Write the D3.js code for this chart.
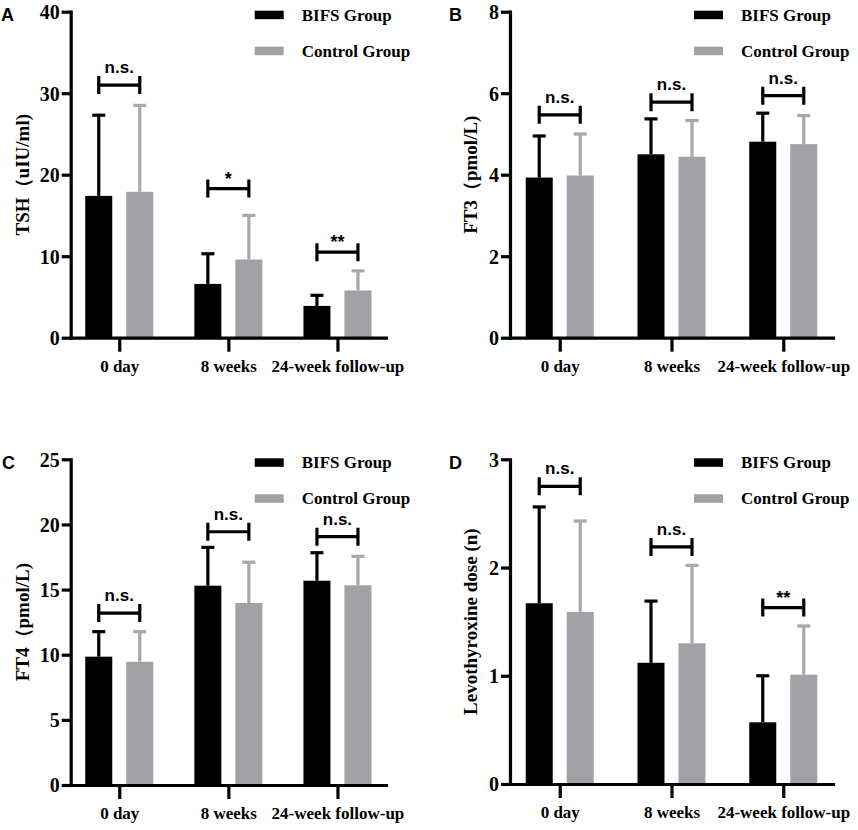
<!DOCTYPE html>
<html>
<head>
<meta charset="utf-8">
<script src="https://cdn.jsdelivr.net/npm/d3@7"></script>
<style>
  body { margin: 0; background: #fff; }
  svg { display: block; }
</style>
</head>
<body>
<div class="chart"></div>
<script>
// time points and groups
const timepoints = ['0 day', '8 weeks', '24-week follow-up'];
const groups = ['BIFS Group', 'Control Group'];

// A: TSH
const tshBifs = [17.4, 6.6, 3.9];
const tshBifsSd = [9.9, 3.7, 1.3];
const tshCtrl = [17.9, 9.6, 5.8];
const tshCtrlSd = [10.6, 5.4, 2.4];
const tshSig = ['n.s.', '*', '**'];
const tshSigAt = [31.0, 18.3, 10.5];
const tshTicks = [0, 10, 20, 30, 40];

// B: FT3
const ft3Bifs = [3.93, 4.50, 4.81];
const ft3BifsSd = [1.02, 0.87, 0.70];
const ft3Ctrl = [3.98, 4.44, 4.75];
const ft3CtrlSd = [1.02, 0.89, 0.70];
const ft3Sig = ['n.s.', 'n.s.', 'n.s.'];
const ft3SigAt = [5.47, 5.78, 5.94];
const ft3Ticks = [0, 2, 4, 6, 8];

// C: FT4
const ft4Bifs = [9.85, 15.3, 15.68];
const ft4BifsSd = [1.92, 2.94, 2.15];
const ft4Ctrl = [9.46, 13.97, 15.33];
const ft4CtrlSd = [2.31, 3.13, 2.22];
const ft4Sig = ['n.s.', 'n.s.', 'n.s.'];
const ft4SigAt = [13.2, 19.44, 19.06];
const ft4Ticks = [0, 5, 10, 15, 20, 25];

// D: Levothyroxine dose
const levoBifs = [1.67, 1.12, 0.57];
const levoBifsSd = [0.89, 0.57, 0.43];
const levoCtrl = [1.59, 1.30, 1.01];
const levoCtrlSd = [0.84, 0.72, 0.45];
const levoSig = ['n.s.', 'n.s.', '**'];
const levoSigAt = [2.75, 2.19, 1.63];
const levoTicks = [0, 1, 2, 3];

const colors = ['#000000', '#a2a1a6'];
const errColors = ['#000000', '#a8a8aa'];
const serif = '"Liberation Serif", "Times New Roman", serif';
const sans = '"Liberation Sans", Arial, sans-serif';
const lw = 3.2;

const svg = d3.select('.chart')
    .append('svg')
    .attr('width', 858)
    .attr('height', 830);

function drawPanel(p) {
    const g = svg.append('g');

    const x = d3.scalePoint()
        .domain(timepoints)
        .range([p.left, p.right])
        .padding(0.445);
    const y = d3.scaleLinear()
        .domain([0, d3.max(p.ticks)])
        .range([p.bottom, p.top]);

    const off = 20.5, bw = 27, cap = 13;
    const rows = timepoints.map((t, i) => ({
        t: t,
        vals: [p.bifs[i], p.ctrl[i]],
        sds: [p.bifsSd[i], p.ctrlSd[i]],
        sig: p.sig[i],
        sigAt: p.sigAt[i]
    }));

    // bars
    rows.forEach(r => {
        r.vals.forEach((v, k) => {
            const cx = x(r.t) + (k === 0 ? -off : off);
            g.append('rect')
                .attr('x', cx - bw / 2)
                .attr('y', y(v))
                .attr('width', bw)
                .attr('height', y(0) - y(v))
                .attr('fill', colors[k]);
            const top = y(v + r.sds[k]);
            g.append('line')
                .attr('x1', cx).attr('x2', cx)
                .attr('y1', y(v)).attr('y2', top)
                .attr('stroke', errColors[k])
                .attr('stroke-width', lw);
            g.append('line')
                .attr('x1', cx - cap / 2).attr('x2', cx + cap / 2)
                .attr('y1', top).attr('y2', top)
                .attr('stroke', errColors[k])
                .attr('stroke-width', lw);
        });

        // significance bracket
        const x1 = x(r.t) - off, x2 = x(r.t) + off, by = y(r.sigAt);
        g.append('path')
            .attr('d', `M${x1},${by - 9}V${by + 9}M${x1},${by}H${x2}M${x2},${by - 9}V${by + 9}`)
            .attr('fill', 'none')
            .attr('stroke', '#000')
            .attr('stroke-width', lw);
        const star = r.sig !== 'n.s.';
        g.append('text')
            .attr('x', x(r.t))
            .attr('y', star ? by - 4 : by - 12)
            .attr('text-anchor', 'middle')
            .attr('font-family', sans)
            .attr('font-weight', 'bold')
            .attr('font-size', star ? 18 : 17)
            .text(r.sig);
    });

    // axes
    const yAxis = d3.axisLeft(y)
        .tickValues(p.ticks)
        .tickFormat(d3.format('d'))
        .tickSize(9)
        .tickSizeOuter(0)
        .tickPadding(2);
    const ya = g.append('g')
        .attr('transform', `translate(${p.left},0)`)
        .call(yAxis);

    const xAxis = d3.axisBottom(x)
        .tickSize(14)
        .tickSizeOuter(0)
        .tickPadding(8);
    const xa = g.append('g')
        .attr('transform', `translate(0,${p.bottom})`)
        .call(xAxis);

    [ya, xa].forEach(a => {
        a.select('.domain').attr('stroke', '#000').attr('stroke-width', lw).attr('stroke-linecap', 'square');
        a.selectAll('.tick line').attr('stroke', '#000').attr('stroke-width', lw);
        a.selectAll('.tick text')
            .attr('fill', '#000')
            .attr('font-family', serif)
            .attr('font-weight', 'bold')
            .attr('font-size', 17);
    });
    ya.selectAll('.tick text').attr('dy', '0.34em').attr('font-size', 20);

    // y title
    g.append('text')
        .attr('transform', `translate(${p.titleX},${(p.top + p.bottom) / 2}) rotate(-90)`)
        .attr('text-anchor', 'middle')
        .attr('dominant-baseline', 'central')
        .attr('font-family', serif)
        .attr('font-weight', 'bold')
        .attr('font-size', 19)
        .text(p.title);

    // panel letter
    g.append('text')
        .attr('x', p.letterX)
        .attr('y', p.top + 9.5)
        .attr('font-family', sans)
        .attr('font-weight', 'bold')
        .attr('font-size', 18)
        .text(p.letter);

    // legend
    const legend = g.append('g')
        .attr('transform', `translate(${p.left + 184},${p.top})`);
    legend.selectAll('rect')
        .data(groups)
        .enter()
        .append('rect')
        .attr('x', 0)
        .attr('y', (d, i) => -1 + i * 36)
        .attr('width', 29)
        .attr('height', 8.5)
        .attr('fill', (d, i) => colors[i]);
    legend.selectAll('text')
        .data(groups)
        .enter()
        .append('text')
        .attr('x', 47)
        .attr('y', (d, i) => 9 + i * 36)
        .attr('font-family', serif)
        .attr('font-weight', 'bold')
        .attr('font-size', 17)
        .text(d => d);
}

drawPanel({ letter: 'A', letterX: 1, title: 'TSH（uIU/ml)', titleX: 22,
    left: 70.7, right: 386, top: 11.7, bottom: 337.7, ticks: tshTicks,
    bifs: tshBifs, bifsSd: tshBifsSd, ctrl: tshCtrl, ctrlSd: tshCtrlSd, sig: tshSig, sigAt: tshSigAt });
drawPanel({ letter: 'B', letterX: 449, title: 'FT3（pmol/L)', titleX: 470.5,
    left: 510, right: 833, top: 11.7, bottom: 337.7, ticks: ft3Ticks,
    bifs: ft3Bifs, bifsSd: ft3BifsSd, ctrl: ft3Ctrl, ctrlSd: ft3CtrlSd, sig: ft3Sig, sigAt: ft3SigAt });
drawPanel({ letter: 'C', letterX: 2, title: 'FT4（pmol/L)', titleX: 22,
    left: 70.7, right: 386, top: 459.3, bottom: 785, ticks: ft4Ticks,
    bifs: ft4Bifs, bifsSd: ft4BifsSd, ctrl: ft4Ctrl, ctrlSd: ft4CtrlSd, sig: ft4Sig, sigAt: ft4SigAt });
drawPanel({ letter: 'D', letterX: 449, title: 'Levothyroxine dose (n)', titleX: 470.5,
    left: 510, right: 833, top: 459.3, bottom: 784, ticks: levoTicks,
    bifs: levoBifs, bifsSd: levoBifsSd, ctrl: levoCtrl, ctrlSd: levoCtrlSd, sig: levoSig, sigAt: levoSigAt });
</script>
</body>
</html>
